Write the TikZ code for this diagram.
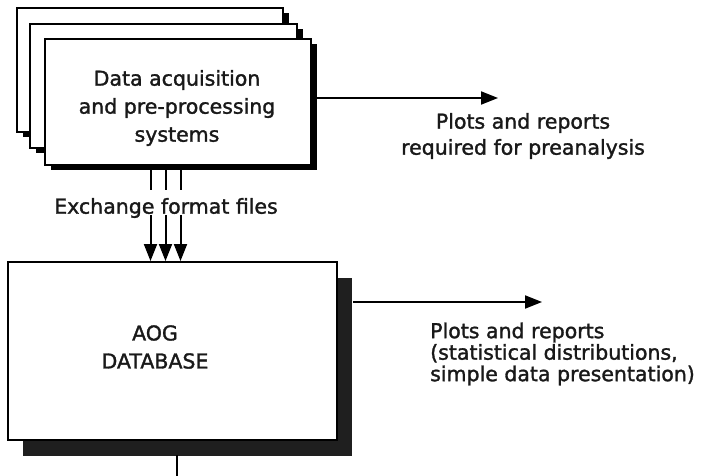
\documentclass[tikz,border=0pt]{standalone}
\usepackage{fontspec}
\setmainfont{DejaVu Sans}[FakeBold=1.5]
\usetikzlibrary{arrows.meta,shadows}
\begin{document}
\begin{tikzpicture}[x=1pt,y=-1pt,
  box/.style={draw,fill=white,line width=2pt,inner sep=0pt},
  shad/.style={drop shadow={shadow xshift=6pt,shadow yshift=-5pt,fill=black,opacity=1}},
  bigshad/.style={drop shadow={shadow xshift=15pt,shadow yshift=-16pt,fill=black!88,opacity=1}},
  lbl/.style={font=\fontsize{20.5}{28}\selectfont,text=black!90,inner sep=0pt},
  conn/.style={line width=2pt},
  arr/.style={line width=2pt,-{Triangle[length=17pt,width=13pt]}}]
\useasboundingbox (0,0) rectangle (702,476);
% stacked acquisition boxes
\node[box,shad,minimum width=266pt,minimum height=124pt] (back) at (150,70) {};
\node[box,shad,minimum width=267pt,minimum height=124pt] (mid) at (163.5,86) {};
\node[box,shad,minimum width=266pt,minimum height=126pt] (acq) at (178,102) {};
\node[lbl,align=center] (acqt) at (177,108) {Data acquisition\\and pre-processing\\systems};
% database box
\node[box,bigshad,minimum width=329pt,minimum height=178pt] (db) at (172.5,351) {};
\node[lbl,align=center] (dbt) at (155,347) {AOG\\DATABASE};
% exchange label
\node[lbl] (xch) at (166,208) {Exchange format files};
% exchange connectors
\foreach \dx [count=\i] in {-27.5,-12.5,2.5}{
  \coordinate (u\i) at ([xshift=\dx pt]acq.south);
  \coordinate (m\i) at ([xshift=\dx pt]acq.south |- 0,190);
  \coordinate (l\i) at ([xshift=\dx pt]acq.south |- 0,215);
  \coordinate (d\i) at ([xshift=\dx pt]acq.south |- db.north);
  \draw[conn] (u\i) -- (m\i);
  \draw[arr] (l\i) -- (d\i);
}
% output arrows
\coordinate (o1s) at (317,98);
\coordinate (o1e) at (498,98);
\draw[arr] (o1s) -- (o1e);
\node[lbl,align=center,font=\fontsize{20.5}{26}\selectfont] (o1t) at (523,136) {Plots and reports\\required for preanalysis};
\coordinate (o2s) at (353,302);
\coordinate (o2e) at (542,302);
\draw[arr] (o2s) -- (o2e);
\node[lbl,align=left,anchor=west,font=\fontsize{20.5}{21.5}\selectfont] (o2t) at (430,354) {Plots and reports\\(statistical distributions,\\simple data presentation)};
% bottom connector
\coordinate (bot) at (177,476);
\draw[conn] (177,455) -- (bot);
\end{tikzpicture}
\end{document}
